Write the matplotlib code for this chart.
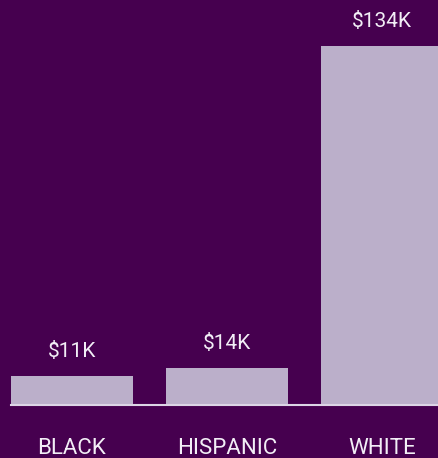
import matplotlib.pyplot as plt

categories = ["BLACK", "HISPANIC", "WHITE"]
values = [11, 14, 134]  # thousands of dollars
value_labels = ["$11K", "$14K", "$134K"]

bg = "#46004f"
bar_color = "#bbafca"
text_color = "#f2eef6"

plt.rcParams["font.family"] = ["Roboto", "DejaVu Sans"]

fig = plt.figure(figsize=(4.38, 4.58), dpi=100, facecolor=bg)
ax = fig.add_axes([11 / 438, 53 / 458, 427 / 438, 405 / 458])
ax.set_facecolor(bg)

x = range(len(categories))
ax.bar(x, values, width=0.787, color=bar_color, zorder=1)
ax.axhline(0, color="#ddd5e6", linewidth=1.5, zorder=2, clip_on=False)

for i, (v, lab) in enumerate(zip(values, value_labels)):
    ax.annotate(lab, (i, v), xytext=(0, 17.5), textcoords="offset points",
                ha="center", va="center", fontsize=15, color=text_color)
    ax.annotate(categories[i], (i, 0), xytext=(0, -31), textcoords="offset points",
                ha="center", va="center", fontsize=16, color=text_color,
                annotation_clip=False)

ax.set_xlim(-0.3935, 2.3615)
ax.set_ylim(0, 151.2)
ax.axis("off")

fig.savefig("out.png", dpi=100, facecolor=bg)
